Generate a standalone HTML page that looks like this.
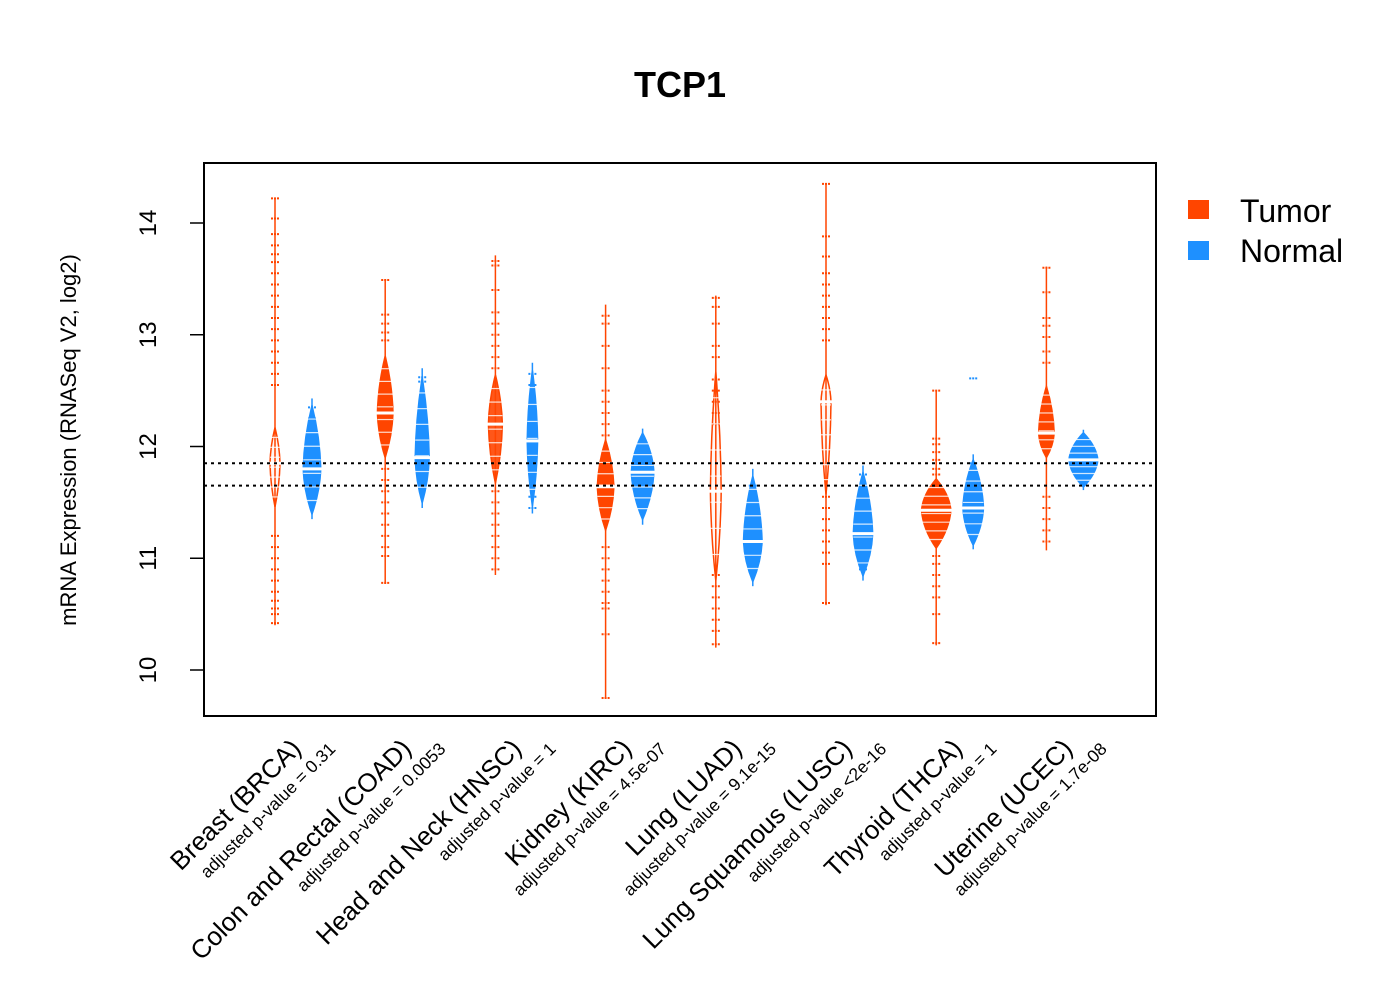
<!DOCTYPE html>
<html><head><meta charset="utf-8"><style>
html,body{margin:0;padding:0;background:#fff;}
svg{display:block;font-family:"Liberation Sans",Arial,sans-serif;}
</style></head><body>
<svg id="chart" width="1400" height="1000" viewBox="0 0 1400 1000">
<text x="680" y="97" text-anchor="middle" font-size="36" font-weight="bold">TCP1</text>
<g id="beans"></g>
<rect x="204" y="163" width="952" height="553" fill="none" stroke="#000" stroke-width="2"/>
<g id="yaxis"></g>
<g id="xlabels"></g>
<text transform="translate(76,440) rotate(-90)" text-anchor="middle" font-size="22">mRNA Expression (RNASeq V2, log2)</text>
<g>
<rect x="1188" y="200" width="21" height="19" fill="#ff4500"/>
<text x="1240" y="222" font-size="32">Tumor</text>
<rect x="1188" y="241" width="21" height="19" fill="#1e90ff"/>
<text x="1240" y="262" font-size="32">Normal</text>
</g>
</svg>
<script>
const categories = ["Breast (BRCA)","Colon and Rectal (COAD)","Head and Neck (HNSC)","Kidney (KIRC)","Lung (LUAD)","Lung Squamous (LUSC)","Thyroid (THCA)","Uterine (UCEC)"];
const pvalues = ["adjusted p-value = 0.31","adjusted p-value = 0.0053","adjusted p-value = 1","adjusted p-value = 4.5e-07","adjusted p-value = 9.1e-15","adjusted p-value <2e-16","adjusted p-value = 1","adjusted p-value = 1.7e-08"];
const yTicks = [10,11,12,13,14];
const refLines = [11.85,11.65];
// tumor beans: median, body low, body high, whisker low, whisker high
const tumorMedian = [11.85,12.3,12.2,11.64,11.6,12.4,11.43,12.12];
const tumorBodyLo = [11.46,11.9,11.67,11.25,10.8,11.57,11.09,11.9];
const tumorBodyHi = [12.17,12.81,12.64,12.06,12.67,12.64,11.71,12.54];
const tumorMin = [10.4,10.77,10.85,9.75,10.2,10.58,10.22,11.07];
const tumorMax = [14.22,13.49,13.71,13.27,13.35,14.35,12.5,13.61];
const tumorPoints = [
 [14.22,14.04,13.9,13.8,13.72,13.65,13.55,13.45,13.35,13.25,13.15,13.05,12.95,12.85,12.75,12.65,12.55,11.2,11.1,11.0,10.9,10.8,10.7,10.62,10.55,10.5,10.42],
 [13.49,13.18,13.1,13.02,12.95,11.8,11.7,11.6,11.5,11.4,11.3,11.2,11.1,11.02,10.78],
 [13.66,13.62,13.4,13.2,13.1,13.0,12.9,12.8,12.7,11.6,11.5,11.4,11.3,11.2,11.1,11.0,10.9],
 [13.17,13.1,12.9,12.7,12.5,12.4,12.3,12.2,12.1,11.1,11.0,10.9,10.8,10.7,10.6,10.55,10.32,9.75],
 [13.33,13.25,13.1,12.9,12.8,12.6,12.5,12.4,12.3,12.2,10.85,10.75,10.65,10.55,10.45,10.35,10.23],
 [14.35,13.88,13.7,13.55,13.45,13.35,13.25,13.15,13.05,12.95,11.55,11.45,11.35,11.25,11.15,11.05,10.95,10.6],
 [12.5,12.07,12.02,11.95,11.88,11.8,11.75,11.02,10.95,10.85,10.75,10.65,10.5,10.24],
 [13.6,13.38,13.15,13.08,12.98,12.85,12.75,11.55,11.45,11.35,11.25,11.15]
];
const tumorWidth = [5,7.8,7,8.3,5.4,5,14.7,7.8];
// normal beans
const normalMedian = [11.8,11.9,12.05,11.77,11.15,11.22,11.45,11.88];
const normalMin = [11.35,11.45,11.4,11.3,10.75,10.8,11.08,11.61];
const normalMax = [12.43,12.7,12.75,12.16,11.8,11.83,11.93,12.15];
const normalPoints = [
 [12.35,12.25,12.15,12.05],
 [12.62,12.58],
 [12.65,12.55,11.55,11.45],
 [12.05],
 [11.65,11.55],
 [11.75,11.65,10.9],
 [12.61,11.85],
 []
];
const normalWidth = [8.8,7,5.2,11.3,9.3,9.7,10.3,14.5];
// fill opacity (style) per tumor bean: hollow vs filled
const tumorFill = [0.05,1,0.9,1,0.05,0.05,1,1];

const NS = "http://www.w3.org/2000/svg";
const yScale = v => 670 - (v - 10) * 111.75;
const xTumor = i => 275 + 110.2 * i;
const xNormal = i => 312 + 110.2 * i;
const beans = document.getElementById('beans');

function mk(tag, attrs, parent) {
  const e = document.createElementNS(NS, tag);
  for (const k in attrs) e.setAttribute(k, attrs[k]);
  parent.appendChild(e);
  return e;
}
function beanPath(cx, lo, hi, med, w) {
  const yl = yScale(lo), yh = yScale(hi), ym = yScale(med);
  return `M${cx},${yh} Q${cx + w * 0.9},${(yh + ym) / 2} ${cx + w},${ym} Q${cx + w * 0.9},${(yl + ym) / 2} ${cx},${yl} Q${cx - w * 0.9},${(yl + ym) / 2} ${cx - w},${ym} Q${cx - w * 0.9},${(yh + ym) / 2} ${cx},${yh} Z`;
}
function drawBean(cx, color, lo, hi, med, w, wmin, wmax, pts, fillOp, name) {
  const g = mk('g', {}, beans);
  
  
  const wh = mk('line', {x1: cx, x2: cx, y1: yScale(wmax), y2: yScale(wmin), stroke: color, 'stroke-width': 1.5}, g);
  
  
  pts.forEach(v => {
    const p = mk('line', {x1: cx - 4, x2: cx + 4, y1: yScale(v), y2: yScale(v), stroke: color, 'stroke-width': 2, 'stroke-dasharray': '2 1'}, g);
    
    
  });
  const b = mk('path', {d: beanPath(cx, lo, hi, med, w), fill: color, 'fill-opacity': fillOp, stroke: color, 'stroke-width': 1.5}, g);
  
  
  for (let k = 1; k < 8; k++) {
    const v = lo + (hi - lo) * k / 8;
    const s = mk('line', {x1: cx - w, x2: cx + w, y1: yScale(v), y2: yScale(v), stroke: '#fff', 'stroke-width': 1.2, 'stroke-opacity': 0.8}, g);
    
    
  }
  const m = mk('line', {x1: cx - w - 2, x2: cx + w + 2, y1: yScale(med), y2: yScale(med), stroke: '#fff', 'stroke-width': 3}, g);
  
  
}
categories.forEach((c, i) => {
  drawBean(xTumor(i), '#ff4500', tumorBodyLo[i], tumorBodyHi[i], tumorMedian[i], tumorWidth[i], tumorMin[i], tumorMax[i], tumorPoints[i], tumorFill[i], 'tumor-bean-' + i);
  const lo = normalMin[i] + (normalMedian[i] - normalMin[i]) * 0.1;
  const hi = normalMax[i] - (normalMax[i] - normalMedian[i]) * 0.1;
  drawBean(xNormal(i), '#1e90ff', lo, hi, normalMedian[i], normalWidth[i], normalMin[i], normalMax[i], normalPoints[i], 1, 'normal-bean-' + i);
});
refLines.forEach(v => {
  const l = mk('line', {x1: 204, x2: 1156, y1: yScale(v), y2: yScale(v), stroke: '#000', 'stroke-width': 2, 'stroke-dasharray': '3 4'}, beans);
  
  
});
const ya = document.getElementById('yaxis');
const axl = mk('line', {x1: 204, x2: 204, y1: yScale(yTicks[0]), y2: yScale(yTicks[yTicks.length - 1]), stroke: '#000', 'stroke-width': 1.5}, ya);


yTicks.forEach(t => {
  const y = yScale(t);
  const tk = mk('line', {x1: 190, x2: 204, y1: y, y2: y, stroke: '#000', 'stroke-width': 1.5}, ya);
  
  
  const tx = mk('text', {transform: `translate(156,${y}) rotate(-90)`, 'text-anchor': 'middle', 'font-size': 24}, ya);
  tx.textContent = t;
  
  
});
const xl = document.getElementById('xlabels');
categories.forEach((c, i) => {
  const cx = 293.5 + 110.2 * i;
  const a = mk('text', {transform: `translate(${cx + 9},750) rotate(-45)`, 'text-anchor': 'end', 'font-size': 26}, xl);
  a.textContent = c;
  
  
  const b = mk('text', {transform: `translate(${cx + 43},750) rotate(-45)`, 'text-anchor': 'end', 'font-size': 17.5}, xl);
  b.textContent = pvalues[i];
  
  
});
</script>
</body></html>
